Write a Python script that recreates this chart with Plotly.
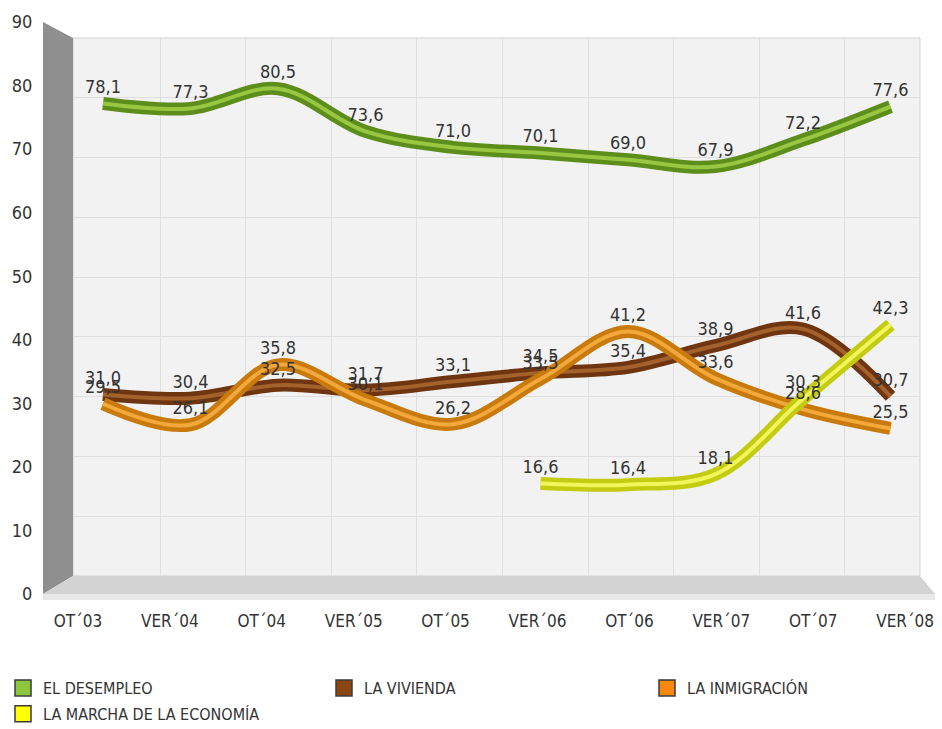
import plotly.graph_objects as go

# ---------------- data ----------------
categories = ["OT´03", "VER´04", "OT´04", "VER´05", "OT´05",
              "VER´06", "OT´06", "VER´07", "OT´07", "VER´08"]
desempleo = [78.1, 77.3, 80.5, 73.6, 71.0, 70.1, 69.0, 67.9, 72.2, 77.6]
vivienda = [31.0, 30.4, 32.5, 31.7, 33.1, 34.5, 35.4, 38.9, 41.6, 30.7]
inmigracion = [29.5, 26.1, 35.8, 30.1, 26.2, 33.5, 41.2, 33.6, 28.6, 25.5]
economia = [None, None, None, None, None, 16.6, 16.4, 18.1, 30.3, 42.3]
y_ticks = [0, 10, 20, 30, 40, 50, 60, 70, 80, 90]

series = [
    # name, values, base colour, highlight colour, legend box colour, legend id
    ("LA VIVIENDA", vivienda, "#6e3510", "#a3612c", "#8b4513", "legend2"),
    ("LA INMIGRACIÓN", inmigracion, "#c97a0c", "#f2a83a", "#f7870f", "legend3"),
    ("LA MARCHA DE LA ECONOMÍA", economia, "#c4cc12", "#f2f55c", "#ffff00", "legend"),
    ("EL DESEMPLEO", desempleo, "#5d8e1c", "#98c842", "#8cc63f", "legend"),
]

W, H = 942, 729
def px(x):
    return x / W
def py(y):
    return 1 - y / H

FONT = "DejaVu Sans Condensed, Liberation Sans Narrow, DejaVu Sans, sans-serif"
TXT = "#333333"

fig = go.Figure()

# dummy traces so every subplot exists
fig.add_trace(go.Scatter(x=[None], y=[None], xaxis="x", yaxis="y",
                         showlegend=False, hoverinfo="skip"))
fig.add_trace(go.Scatter(x=[None], y=[None], xaxis="x2", yaxis="y2",
                         showlegend=False, hoverinfo="skip"))

# ribbons
for name, vals, base, hi, box, lg in series:
    fig.add_trace(go.Scatter(
        x=categories, y=vals, xaxis="x3", yaxis="y3", mode="lines",
        line=dict(color=base, width=13, shape="spline", smoothing=1),
        showlegend=False, hoverinfo="skip", cliponaxis=False))
    fig.add_trace(go.Scatter(
        x=categories, y=vals, xaxis="x3", yaxis="y3", mode="lines",
        line=dict(color=hi, width=4, shape="spline", smoothing=1),
        showlegend=False, hoverinfo="skip", cliponaxis=False))

# data labels
for name, vals, base, hi, box, lg in series:
    fig.add_trace(go.Scatter(
        x=categories, y=vals, xaxis="x3", yaxis="y3", mode="markers+text",
        marker=dict(size=8, opacity=0),
        text=[("" if v is None else f"{v:.1f}".replace(".", ",")) for v in vals],
        textposition="top center",
        textfont=dict(family=FONT, size=18, color=TXT),
        showlegend=False, hoverinfo="skip", cliponaxis=False))

# legend boxes
legend_order = ["EL DESEMPLEO", "LA MARCHA DE LA ECONOMÍA", "LA VIVIENDA", "LA INMIGRACIÓN"]
lookup = {s[0]: s for s in series}
for nm in legend_order:
    name, vals, base, hi, box, lg = lookup[nm]
    fig.add_trace(go.Scatter(
        x=[None], y=[None], xaxis="x3", yaxis="y3", mode="markers", name=name,
        marker=dict(symbol="square", size=18, color=box,
                    line=dict(color="#3a3a3a", width=1.5)),
        legend=lg, legendgroup=name))

shapes = [
    dict(type="rect", xref="paper", yref="paper", x0=px(73), x1=px(920),
         y0=py(576), y1=py(38), fillcolor="#f2f2f2",
         line=dict(color="#d2d2d2", width=1), layer="below"),
    dict(type="path", xref="paper", yref="paper",
         path=f"M {px(43)},{py(22)} L {px(73)},{py(38)} L {px(73)},{py(576)} L {px(43)},{py(594)} Z",
         fillcolor="#8f8f8f", line=dict(width=0), layer="below"),
    dict(type="path", xref="paper", yref="paper",
         path=f"M {px(43)},{py(594)} L {px(73)},{py(576)} L {px(920)},{py(576)} L {px(935)},{py(594)} Z",
         fillcolor="#d3d3d3", line=dict(width=0), layer="below"),
    dict(type="rect", xref="paper", yref="paper", x0=px(43), x1=px(935),
         y0=py(600), y1=py(594), fillcolor="#e8e8e8", line=dict(width=0), layer="below"),
]

legend_common = dict(orientation="v", xanchor="left", yanchor="top",
                     bgcolor="rgba(0,0,0,0)", tracegroupgap=2,
                     font=dict(family=FONT, size=16, color=TXT))

fig.update_layout(
    width=W, height=H, autosize=False,
    margin=dict(l=0, r=0, t=0, b=0, pad=0, autoexpand=False),
    paper_bgcolor="white", plot_bgcolor="rgba(0,0,0,0)",
    font=dict(family=FONT, color=TXT),
    shapes=shapes,
    # back-wall grid
    xaxis=dict(domain=[px(73), px(920)], range=[(73 - 160) / 85.6, (920 - 160) / 85.6],
               tickvals=list(range(9)), showticklabels=False, showgrid=True,
               gridcolor="#dedede", zeroline=False, showline=False, anchor="y",
               automargin=False),
    yaxis=dict(domain=[py(576), py(38)], range=[0, 90], tickvals=y_ticks,
               showticklabels=False, showgrid=True, gridcolor="#dedede",
               zeroline=False, showline=False, anchor="x", automargin=False),
    # front tick labels
    xaxis2=dict(domain=[px(43), px(935)], range=[(43 - 78) / 91.9, (935 - 78) / 91.9],
                tickvals=list(range(10)), ticktext=categories, showgrid=False,
                zeroline=False, showline=False, ticks="outside", ticklen=12,
                tickcolor="rgba(0,0,0,0)", anchor="y2", automargin=False,
                tickfont=dict(family=FONT, size=17, color=TXT)),
    yaxis2=dict(domain=[py(594), py(22)], range=[0, 90], tickvals=y_ticks,
                showgrid=False, zeroline=False, showline=False, ticks="outside",
                ticklen=6, tickcolor="rgba(0,0,0,0)", anchor="x2", automargin=False,
                tickfont=dict(family=FONT, size=18, color=TXT)),
    # data
    xaxis3=dict(domain=[px(73), px(920)], type="category",
                range=[(73 - 103) / 87.5, (920 - 103) / 87.5], visible=False,
                anchor="y3", automargin=False),
    yaxis3=dict(domain=[py(576), py(38)], range=[(586 - 576) / 6.178, 90 - (38 - 30) / 6.178],
                visible=False, anchor="x3", automargin=False),
    legend=dict(x=px(3), y=py(671), **legend_common),
    legend2=dict(x=px(324), y=py(671), **legend_common),
    legend3=dict(x=px(647), y=py(671), **legend_common),
)

fig.write_html("out.html", config={"displayModeBar": False},
               post_script="document.body.style.margin='0';document.body.style.overflow='hidden';")
